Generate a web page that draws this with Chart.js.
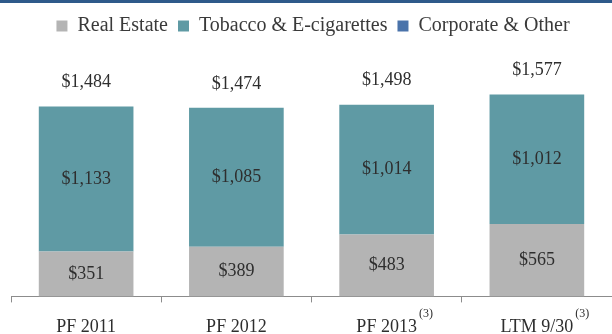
<!DOCTYPE html>
<html lang="en">
<head>
    <meta charset="UTF-8">
    <title>Segment revenues</title>
    <script src="https://cdn.jsdelivr.net/npm/chart.js"></script>
    <style>
        html, body {
            margin: 0;
            padding: 0;
            background: #fff;
            overflow: hidden;
        }
        #wrap {
            position: relative;
            width: 612px;
            height: 334px;
        }
        #rule {
            position: absolute;
            left: 0;
            top: 0;
            width: 612px;
            height: 3px;
            background: #2f5a8a;
        }
    </style>
</head>
<body>
    <div id="wrap">
        <canvas id="grafica" width="612" height="334"></canvas>
        <div id="rule"></div>
    </div>

    <script>
        // Data ($ millions)
        const categories = ['PF 2011', 'PF 2012', 'PF 2013', 'LTM 9/30'];
        const footnotes = ['', '', '(3)', '(3)'];
        const realEstate = [351, 389, 483, 565];
        const tobacco = [1133, 1085, 1014, 1012];
        const corporate = [0, 0, 1, 0];
        const totals = [1484, 1474, 1498, 1577];

        const serif = '"Liberation Serif", "Times New Roman", serif';

        function money(v) {
            return '$' + v.toLocaleString('en-US');
        }

        // labels in the bars, totals on top and footnote marks
        const extras = {
            id: 'extras',
            afterDatasetsDraw(chart) {
                const ctx = chart.ctx;
                const y = chart.scales.y;
                ctx.save();
                ctx.font = '18px ' + serif;
                ctx.textAlign = 'center';
                ctx.textBaseline = 'middle';
                ctx.fillStyle = '#2e2e2e';
                [0, 1].forEach(di => {
                    chart.getDatasetMeta(di).data.forEach((bar, i) => {
                        const v = chart.data.datasets[di].data[i];
                        ctx.fillText(money(v), bar.x, (bar.y + bar.base) / 2);
                    });
                });
                chart.getDatasetMeta(0).data.forEach((bar, i) => {
                    ctx.fillText(money(totals[i]), bar.x, y.getPixelForValue(totals[i]) - 24);
                });
                ctx.restore();
            },
            afterDraw(chart) {
                const ctx = chart.ctx;
                const x = chart.scales.x;
                ctx.save();
                ctx.font = '18px ' + serif;
                const w = categories.map(c => ctx.measureText(c).width);
                ctx.font = '12px ' + serif;
                ctx.fillStyle = '#2e2e2e';
                ctx.textBaseline = 'middle';
                footnotes.forEach((f, i) => {
                    if (!f) return;
                    ctx.fillText(f, x.getPixelForTick(i) + w[i] / 2 + 2, x.top + 17);
                });
                ctx.restore();
            }
        };

        const ctx = document.getElementById('grafica').getContext('2d');
        new Chart(ctx, {
            type: 'bar',
            data: {
                labels: categories,
                datasets: [
                    { label: 'Real Estate', data: realEstate, backgroundColor: '#b4b4b4' },
                    { label: 'Tobacco & E-cigarettes', data: tobacco, backgroundColor: '#5f9aa4' },
                    { label: 'Corporate & Other', data: corporate, backgroundColor: '#4a73aa' }
                ]
            },
            options: {
                responsive: false,
                animation: false,
                // the original chart runs a little past the right edge of the picture
                layout: { padding: { left: 11, right: -3, top: 6, bottom: -18 } },
                datasets: {
                    bar: { categoryPercentage: 1, barPercentage: 0.63 }
                },
                plugins: {
                    legend: {
                        labels: {
                            boxWidth: 11,
                            boxHeight: 11,
                            padding: 10,
                            color: '#3a3a3a',
                            font: { family: serif, size: 20 }
                        }
                    },
                    tooltip: { enabled: false }
                },
                scales: {
                    x: {
                        stacked: true,
                        grid: {
                            offset: true,
                            drawOnChartArea: false,
                            tickLength: 6,
                            tickColor: '#8c8c8c'
                        },
                        border: { color: '#8c8c8c' },
                        ticks: {
                            padding: 14,
                            color: '#2e2e2e',
                            font: { family: serif, size: 18 }
                        }
                    },
                    y: {
                        stacked: true,
                        display: false,
                        min: 0,
                        max: 1957
                    }
                }
            },
            plugins: [extras]
        });
    </script>
</body>
</html>
